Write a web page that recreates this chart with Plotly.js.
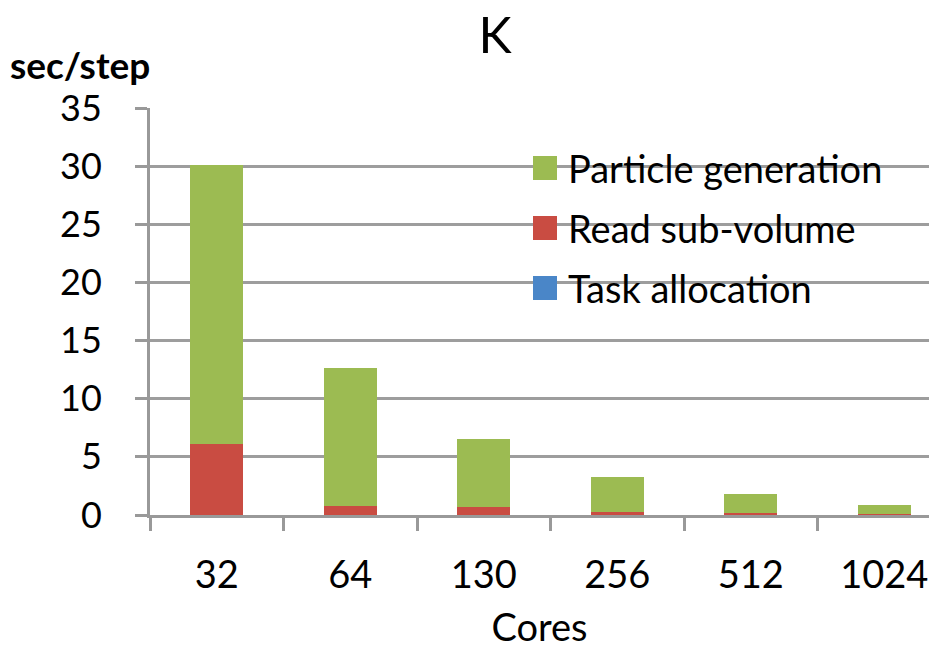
<!DOCTYPE html>
<html>
<head>
<meta charset="utf-8">
<script src="https://cdn.plot.ly/plotly-3.0.1.min.js"></script>
<style>html,body{margin:0;padding:0;background:#fff;}#chart{width:929px;height:649px;}</style>
</head>
<body>
<div id="chart"></div>
<script>
const cores = ["32", "64", "130", "256", "512", "1024"];
const taskAllocation = [0.02, 0.02, 0.02, 0.02, 0.02, 0.02];
const readSubVolume = [6.1, 0.75, 0.67, 0.26, 0.13, 0.05];
const particleGeneration = [24.0, 11.87, 5.83, 3.0, 1.67, 0.79];
const seriesNames = ["Task allocation", "Read sub-volume", "Particle generation"];
const seriesColors = ["#4a86c8", "#c94c42", "#9cbb52"];

const font = "Lato, 'Open Sans', sans-serif";
const series = [taskAllocation, readSubVolume, particleGeneration];
const traces = series.map((vals, i) => ({
  type: "bar",
  name: seriesNames[i],
  x: cores,
  y: vals,
  marker: {color: seriesColors[i], line: {width: 0}},
  hoverinfo: "skip",
  showlegend: false
}));

// custom legend (top to bottom: reversed stack order)
const shapes = [];
const annotations = [];
const legY0 = 168, legDy = 60; // pixel centers
const plotTop = 108, plotH = 407, plotL = 150, plotW = 779;
for (let k = 0; k < 3; k++) {
  const i = 2 - k;
  const cy = legY0 + k * legDy;
  const yc = 1 - (cy - plotTop) / plotH;
  const half = 12 / plotH;
  shapes.push({type: "rect", xref: "paper", yref: "paper",
    x0: (533 - plotL) / plotW, x1: (557 - plotL) / plotW, y0: yc - half, y1: yc + half,
    fillcolor: seriesColors[i], line: {width: 0}});
  annotations.push({text: seriesNames[i], xref: "paper", yref: "paper",
    x: (566 - plotL) / plotW, y: yc, xanchor: "left", yanchor: "middle", showarrow: false,
    font: {family: font, size: 38, color: "#000"}});
}
annotations.push({
  text: "<b>sec/step</b>", xref: "paper", yref: "paper", x: (8 - plotL) / plotW, y: 1 + (108 - 64) / plotH,
  xanchor: "left", yanchor: "middle", showarrow: false, font: {family: font, size: 37, color: "#000"}
});

const layout = {
  width: 929, height: 649,
  margin: {l: 150, r: 0, t: 108, b: 134},
  paper_bgcolor: "#fff", plot_bgcolor: "#fff",
  barmode: "stack",
  bargap: 0.6,
  font: {family: font, color: "#000", size: 38},
  title: {text: "K", font: {family: font, size: 50, color: "#000"}, x: 0.533, xanchor: "center", y: 0.946, yanchor: "middle"},
  showlegend: false,
  xaxis: {
    type: "category",
    range: [-0.5, 5.335],
    showline: true, linecolor: "#999", linewidth: 3,
    ticks: "outside", ticklen: 13, tickwidth: 3, tickcolor: "#999",
    tickson: "boundaries",
    showgrid: false, zeroline: false,
    tickfont: {family: font, size: 38, color: "#000"},
    ticklabelstandoff: 24,
    title: {text: "Cores", font: {family: font, size: 38, color: "#000"}, standoff: 22}
  },
  yaxis: {
    range: [0, 35],
    tickvals: [0, 5, 10, 15, 20, 25, 30, 35],
    showline: true, linecolor: "#999", linewidth: 3,
    ticks: "outside", ticklen: 12, tickwidth: 3, tickcolor: "#999",
    showgrid: true, gridcolor: "#9d9d9d", gridwidth: 3,
    zeroline: false,
    tickfont: {family: font, size: 36, color: "#000"},
    ticklabelstandoff: 26
  },
  shapes: shapes,
  annotations: annotations
};

Plotly.newPlot("chart", traces, layout, {displayModeBar: false, staticPlot: true});
</script>
</body>
</html>
